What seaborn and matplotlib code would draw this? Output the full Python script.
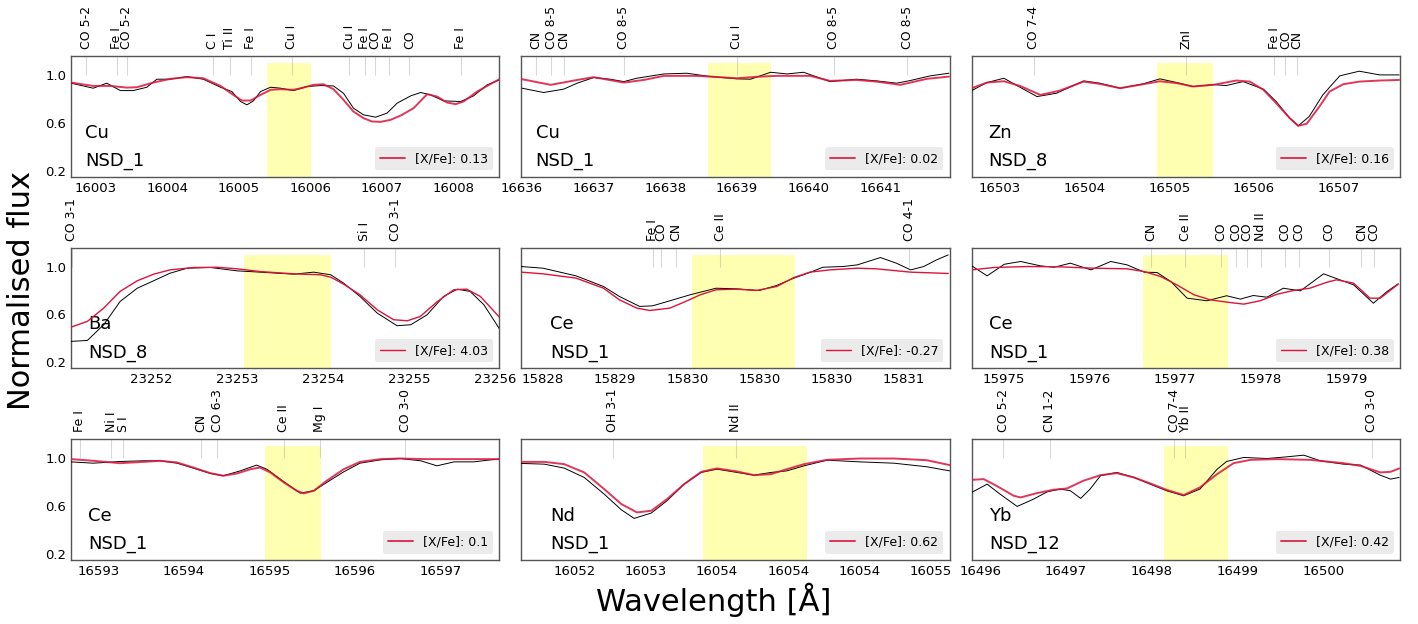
import matplotlib
matplotlib.use("Agg")
import matplotlib.pyplot as plt
import matplotlib.transforms as mtransforms
from matplotlib.ticker import MultipleLocator, FormatStrFormatter
import seaborn as sns

# ---------------- data ----------------
elements = ["Cu", "Cu", "Zn", "Ba", "Ce", "Ce", "Ce", "Nd", "Yb"]
stars = ["NSD_1", "NSD_1", "NSD_8", "NSD_8", "NSD_1", "NSD_1", "NSD_1", "NSD_1", "NSD_12"]
xfe_values = [0.13, 0.02, 0.16, 4.03, -0.27, 0.38, 0.1, 0.62, 0.42]

# panel 1: Cu
p1_model_wave = [16002.65, 16002.96, 16003.20, 16003.43, 16003.57, 16003.80, 16004.04, 16004.27, 16004.50, 16004.74, 16004.92, 16005.04, 16005.16, 16005.30, 16005.44, 16005.58, 16005.76, 16005.90, 16006.04, 16006.18, 16006.32, 16006.46, 16006.60, 16006.74, 16006.86, 16006.98, 16007.12, 16007.26, 16007.44, 16007.63, 16007.77, 16007.91, 16008.03, 16008.14, 16008.33, 16008.52, 16008.64]
p1_model_flux = [0.936, 0.908, 0.908, 0.894, 0.897, 0.936, 0.967, 0.981, 0.972, 0.908, 0.833, 0.786, 0.786, 0.833, 0.875, 0.881, 0.875, 0.894, 0.917, 0.922, 0.881, 0.792, 0.694, 0.639, 0.611, 0.608, 0.625, 0.661, 0.722, 0.839, 0.819, 0.769, 0.756, 0.778, 0.861, 0.925, 0.964]
p1_obs_wave = [16002.65, 16002.96, 16003.15, 16003.34, 16003.52, 16003.71, 16003.85, 16004.04, 16004.27, 16004.50, 16004.74, 16004.90, 16005.02, 16005.11, 16005.20, 16005.30, 16005.44, 16005.58, 16005.76, 16005.95, 16006.14, 16006.32, 16006.46, 16006.60, 16006.74, 16006.91, 16007.07, 16007.21, 16007.40, 16007.54, 16007.68, 16007.86, 16008.10, 16008.28, 16008.47, 16008.64]
p1_obs_flux = [0.931, 0.889, 0.931, 0.869, 0.869, 0.897, 0.964, 0.964, 0.986, 0.964, 0.897, 0.861, 0.778, 0.750, 0.783, 0.861, 0.897, 0.889, 0.869, 0.903, 0.911, 0.908, 0.847, 0.722, 0.667, 0.647, 0.681, 0.764, 0.825, 0.853, 0.833, 0.783, 0.778, 0.825, 0.917, 0.958]
p1_line_wave = [16002.86, 16003.29, 16003.43, 16004.63, 16004.87, 16005.16, 16005.74, 16006.54, 16006.76, 16006.90, 16007.09, 16007.38, 16008.10]
p1_line_label = ["CO 5-2", "Fe I", "CO 5-2", "C I", "Ti II", "Fe I", "Cu I", "Cu I", "Fe I", "CO", "Fe I", "CO", "Fe I"]

# panel 2: Cu
p2_model_wave = [16636.00, 16636.40, 16636.77, 16637.00, 16637.42, 16637.70, 16637.98, 16638.40, 16638.63, 16639.00, 16639.33, 16639.56, 16640.02, 16640.30, 16640.67, 16640.95, 16641.28, 16641.65, 16641.96]
p2_model_flux = [0.964, 0.917, 0.958, 0.981, 0.936, 0.958, 0.992, 0.992, 0.986, 0.972, 0.986, 0.992, 0.992, 0.950, 0.958, 0.944, 0.917, 0.967, 0.986]
p2_obs_wave = [16636.00, 16636.30, 16636.58, 16636.77, 16637.00, 16637.23, 16637.42, 16637.60, 16637.98, 16638.30, 16638.63, 16639.00, 16639.19, 16639.47, 16639.70, 16639.93, 16640.30, 16640.67, 16640.95, 16641.23, 16641.42, 16641.70, 16641.96]
p2_obs_flux = [0.889, 0.853, 0.881, 0.931, 0.978, 0.964, 0.944, 0.972, 1.008, 1.014, 0.986, 0.967, 0.964, 1.022, 1.008, 1.022, 0.944, 0.964, 0.950, 0.931, 0.953, 0.992, 1.014]
p2_line_wave = [16636.19, 16636.41, 16636.58, 16637.42, 16639.00, 16640.35, 16641.38]
p2_line_label = ["CN", "CO 8-5", "CN", "CO 8-5", "Cu I", "CO 8-5", "CO 8-5"]

# panel 3: Zn
p3_model_wave = [16502.67, 16502.85, 16503.05, 16503.24, 16503.48, 16503.71, 16503.99, 16504.18, 16504.42, 16504.69, 16504.89, 16505.09, 16505.28, 16505.52, 16505.79, 16505.95, 16506.11, 16506.26, 16506.42, 16506.52, 16506.62, 16506.77, 16506.89, 16507.05, 16507.24, 16507.48, 16507.71]
p3_model_flux = [0.889, 0.936, 0.947, 0.908, 0.833, 0.869, 0.944, 0.925, 0.889, 0.922, 0.947, 0.931, 0.903, 0.917, 0.953, 0.944, 0.875, 0.764, 0.639, 0.575, 0.592, 0.736, 0.861, 0.922, 0.944, 0.953, 0.958]
p3_obs_wave = [16502.67, 16502.85, 16503.05, 16503.24, 16503.44, 16503.67, 16503.99, 16504.18, 16504.42, 16504.69, 16504.89, 16505.09, 16505.28, 16505.52, 16505.67, 16505.87, 16506.11, 16506.26, 16506.42, 16506.52, 16506.65, 16506.81, 16507.01, 16507.24, 16507.48, 16507.71]
p3_obs_flux = [0.869, 0.936, 0.972, 0.897, 0.819, 0.847, 0.950, 0.931, 0.889, 0.925, 0.967, 0.936, 0.903, 0.919, 0.911, 0.944, 0.881, 0.778, 0.639, 0.575, 0.653, 0.833, 0.992, 1.031, 1.000, 1.000]
p3_line_wave = [16503.40, 16505.20, 16506.24, 16506.37, 16506.50]
p3_line_label = ["CO 7-4", "ZnI", "Fe I", "CO", "CN"]

# panel 4: Ba
p4_model_wave = [23251.07, 23251.26, 23251.45, 23251.64, 23251.84, 23252.03, 23252.22, 23252.50, 23252.77, 23253.00, 23253.27, 23253.66, 23253.97, 23254.09, 23254.24, 23254.43, 23254.63, 23254.82, 23254.98, 23255.13, 23255.33, 23255.52, 23255.67, 23255.83, 23256.05]
p4_model_flux = [0.494, 0.542, 0.653, 0.792, 0.881, 0.936, 0.972, 0.992, 0.994, 0.981, 0.958, 0.939, 0.931, 0.911, 0.853, 0.764, 0.639, 0.556, 0.547, 0.583, 0.708, 0.806, 0.811, 0.750, 0.578]
p4_obs_wave = [23251.07, 23251.26, 23251.45, 23251.64, 23251.84, 23252.03, 23252.22, 23252.42, 23252.69, 23253.00, 23253.27, 23253.66, 23253.89, 23254.09, 23254.24, 23254.43, 23254.63, 23254.86, 23255.02, 23255.21, 23255.40, 23255.56, 23255.71, 23255.87, 23256.05]
p4_obs_flux = [0.375, 0.383, 0.514, 0.708, 0.819, 0.881, 0.944, 0.986, 0.992, 0.964, 0.953, 0.936, 0.953, 0.931, 0.861, 0.750, 0.611, 0.506, 0.514, 0.597, 0.750, 0.811, 0.792, 0.681, 0.481]
p4_line_wave = [23251.08, 23254.48, 23254.84]
p4_line_label = ["CO 3-1", "Si I", "CO 3-1"]

# panel 5: Ce
p5_model_wave = [15828.35, 15828.50, 15828.73, 15828.92, 15829.03, 15829.15, 15829.24, 15829.38, 15829.50, 15829.59, 15829.70, 15829.84, 15829.98, 15830.12, 15830.24, 15830.35, 15830.49, 15830.68, 15830.81, 15831.05, 15831.31]
p5_model_flux = [0.953, 0.939, 0.903, 0.819, 0.722, 0.653, 0.633, 0.653, 0.714, 0.764, 0.806, 0.811, 0.800, 0.833, 0.908, 0.953, 0.972, 0.986, 0.981, 0.953, 0.942]
p5_obs_wave = [15828.35, 15828.50, 15828.73, 15828.92, 15829.03, 15829.17, 15829.26, 15829.38, 15829.52, 15829.70, 15829.84, 15830.00, 15830.12, 15830.24, 15830.35, 15830.44, 15830.58, 15830.68, 15830.84, 15830.95, 15831.05, 15831.14, 15831.23, 15831.31]
p5_obs_flux = [1.000, 0.986, 0.922, 0.833, 0.750, 0.667, 0.672, 0.714, 0.764, 0.819, 0.814, 0.800, 0.842, 0.903, 0.950, 0.994, 1.000, 1.014, 1.075, 1.028, 0.972, 1.000, 1.056, 1.097]
p5_line_wave = [15829.26, 15829.32, 15829.42, 15829.73, 15831.04]
p5_line_label = ["Fe I", "CO", "CN", "Ce II", "CO 4-1"]

# panel 6: Ce
p6_model_wave = [15974.63, 15974.89, 15975.28, 15975.67, 15976.05, 15976.44, 15976.64, 15976.83, 15977.02, 15977.22, 15977.41, 15977.60, 15977.80, 15977.99, 15978.19, 15978.38, 15978.57, 15978.77, 15978.88, 15979.08, 15979.27, 15979.39, 15979.60]
p6_model_flux = [0.972, 0.992, 1.000, 0.997, 0.986, 0.981, 0.958, 0.917, 0.847, 0.764, 0.722, 0.703, 0.686, 0.714, 0.769, 0.800, 0.819, 0.869, 0.889, 0.861, 0.736, 0.736, 0.853]
p6_obs_wave = [15974.63, 15974.81, 15975.01, 15975.20, 15975.43, 15975.59, 15975.78, 15976.02, 15976.25, 15976.44, 15976.64, 15976.79, 15976.95, 15977.14, 15977.37, 15977.60, 15977.76, 15977.91, 15978.07, 15978.26, 15978.46, 15978.73, 15978.92, 15979.08, 15979.31, 15979.47, 15979.60]
p6_obs_flux = [1.006, 0.922, 1.019, 1.042, 1.006, 0.994, 1.028, 0.972, 1.042, 1.014, 0.953, 0.950, 0.875, 0.736, 0.714, 0.756, 0.728, 0.758, 0.744, 0.819, 0.797, 0.939, 0.889, 0.847, 0.694, 0.792, 0.856]
p6_line_wave = [15976.72, 15977.12, 15977.53, 15977.71, 15977.84, 15978.00, 15978.28, 15978.44, 15978.79, 15979.17, 15979.32]
p6_line_label = ["CN", "Ce II", "CO", "CO", "CO", "Nd II", "CO", "CO", "CO", "CN", "CO"]

# panel 7: Ce
p7_model_wave = [16592.68, 16592.94, 16593.25, 16593.53, 16593.72, 16593.92, 16594.11, 16594.31, 16594.46, 16594.62, 16594.78, 16594.89, 16595.01, 16595.17, 16595.32, 16595.40, 16595.52, 16595.67, 16595.87, 16596.06, 16596.30, 16596.53, 16596.84, 16597.23, 16597.69]
p7_model_flux = [0.992, 0.978, 0.958, 0.969, 0.978, 0.964, 0.922, 0.875, 0.853, 0.872, 0.908, 0.922, 0.881, 0.797, 0.728, 0.706, 0.728, 0.811, 0.908, 0.969, 0.992, 0.997, 0.992, 0.992, 0.992]
p7_obs_wave = [16592.68, 16592.94, 16593.25, 16593.53, 16593.72, 16593.92, 16594.11, 16594.31, 16594.46, 16594.66, 16594.85, 16594.97, 16595.17, 16595.36, 16595.52, 16595.67, 16595.87, 16596.06, 16596.30, 16596.53, 16596.77, 16596.96, 16597.16, 16597.39, 16597.59, 16597.69]
p7_obs_flux = [0.969, 0.958, 0.972, 0.978, 0.978, 0.958, 0.917, 0.872, 0.853, 0.894, 0.942, 0.908, 0.803, 0.708, 0.728, 0.797, 0.886, 0.958, 0.986, 0.997, 0.978, 0.936, 0.969, 0.969, 0.986, 0.992]
p7_line_wave = [16592.78, 16593.15, 16593.29, 16594.20, 16594.39, 16595.17, 16595.59, 16596.59]
p7_line_label = ["Fe I", "Ni I", "S I", "CN", "CO 6-3", "Ce II", "Mg I", "CO 3-0"]

# panel 8: Nd
p8_model_wave = [16052.13, 16052.29, 16052.43, 16052.57, 16052.71, 16052.83, 16052.94, 16053.04, 16053.15, 16053.27, 16053.39, 16053.50, 16053.64, 16053.76, 16053.88, 16053.99, 16054.11, 16054.27, 16054.50, 16054.74, 16054.97, 16055.13]
p8_model_flux = [0.969, 0.969, 0.950, 0.881, 0.742, 0.617, 0.547, 0.561, 0.658, 0.783, 0.886, 0.914, 0.889, 0.858, 0.867, 0.908, 0.950, 0.986, 0.997, 0.997, 0.983, 0.942]
p8_obs_wave = [16052.13, 16052.29, 16052.43, 16052.57, 16052.71, 16052.83, 16052.92, 16053.04, 16053.15, 16053.27, 16053.39, 16053.50, 16053.64, 16053.76, 16053.88, 16053.99, 16054.11, 16054.27, 16054.50, 16054.74, 16054.97, 16055.13]
p8_obs_flux = [0.956, 0.950, 0.917, 0.839, 0.700, 0.569, 0.497, 0.542, 0.644, 0.783, 0.881, 0.908, 0.881, 0.858, 0.881, 0.894, 0.936, 0.983, 0.969, 0.958, 0.928, 0.894]
p8_line_wave = [16052.77, 16053.63]
p8_line_label = ["OH 3-1", "Nd II"]

# panel 9: Yb
p9_model_wave = [16495.90, 16496.04, 16496.19, 16496.39, 16496.47, 16496.66, 16496.85, 16497.01, 16497.20, 16497.40, 16497.59, 16497.79, 16497.98, 16498.17, 16498.37, 16498.56, 16498.76, 16498.95, 16499.15, 16499.46, 16499.84, 16500.23, 16500.43, 16500.66, 16500.78, 16500.88]
p9_model_flux = [0.819, 0.825, 0.769, 0.686, 0.672, 0.708, 0.736, 0.747, 0.811, 0.858, 0.875, 0.839, 0.789, 0.736, 0.692, 0.756, 0.867, 0.958, 0.986, 0.992, 0.986, 0.958, 0.936, 0.881, 0.886, 0.914]
p9_obs_wave = [16495.90, 16496.08, 16496.23, 16496.43, 16496.62, 16496.78, 16496.93, 16497.05, 16497.17, 16497.28, 16497.40, 16497.59, 16497.79, 16497.98, 16498.17, 16498.37, 16498.56, 16498.76, 16498.87, 16499.07, 16499.34, 16499.57, 16499.77, 16499.96, 16500.23, 16500.43, 16500.66, 16500.78, 16500.88]
p9_obs_flux = [0.714, 0.783, 0.700, 0.597, 0.658, 0.719, 0.742, 0.728, 0.664, 0.742, 0.853, 0.881, 0.839, 0.783, 0.728, 0.686, 0.742, 0.908, 0.972, 1.006, 0.997, 1.011, 1.025, 0.978, 0.950, 0.942, 0.858, 0.825, 0.839]
p9_line_wave = [16496.27, 16496.81, 16498.26, 16498.39, 16500.56]
p9_line_label = ["CO 5-2", "CN 1-2", "CO 7-4", "Yb II", "CO 3-0"]

# window limits, fitted band, tick step
x_limits = [(16002.65, 16008.64), (16635.99, 16641.97), (16502.67, 16507.72),
            (23251.07, 23256.05), (15828.35, 15831.32), (15974.63, 15979.62),
            (16592.68, 16597.69), (16052.13, 16055.13), (16495.90, 16500.89)]
fit_bands = [(16005.39, 16006.00), (16638.60, 16639.47), (16504.86, 16505.52),
             (23253.08, 23254.09), (15829.53, 15830.25), (15976.63, 15977.62),
             (16594.95, 16595.60), (16053.40, 16054.13), (16498.14, 16498.89)]
tick_steps = [1, 1, 1, 1, 0.5, 1, 1, 0.5, 1]

model_waves = [p1_model_wave, p2_model_wave, p3_model_wave, p4_model_wave, p5_model_wave, p6_model_wave, p7_model_wave, p8_model_wave, p9_model_wave]
model_fluxes = [p1_model_flux, p2_model_flux, p3_model_flux, p4_model_flux, p5_model_flux, p6_model_flux, p7_model_flux, p8_model_flux, p9_model_flux]
obs_waves = [p1_obs_wave, p2_obs_wave, p3_obs_wave, p4_obs_wave, p5_obs_wave, p6_obs_wave, p7_obs_wave, p8_obs_wave, p9_obs_wave]
obs_fluxes = [p1_obs_flux, p2_obs_flux, p3_obs_flux, p4_obs_flux, p5_obs_flux, p6_obs_flux, p7_obs_flux, p8_obs_flux, p9_obs_flux]
line_waves = [p1_line_wave, p2_line_wave, p3_line_wave, p4_line_wave, p5_line_wave, p6_line_wave, p7_line_wave, p8_line_wave, p9_line_wave]
line_labels = [p1_line_label, p2_line_label, p3_line_label, p4_line_label, p5_line_label, p6_line_label, p7_line_label, p8_line_label, p9_line_label]

# ---------------- plot ----------------
sns.set_style("white")
plt.rcParams['font.family'] = ['DejaVu Sans']
plt.rcParams['text.color'] = 'black'
plt.rcParams['axes.labelcolor'] = 'black'
plt.rcParams['xtick.color'] = 'black'
plt.rcParams['ytick.color'] = 'black'
plt.rcParams['lines.solid_capstyle'] = 'round'

fig, axes = plt.subplots(3, 3, figsize=(14.18, 6.24), dpi=100)
fig.subplots_adjust(left=0.0501, right=0.9873, top=0.9103, bottom=0.1026,
                    wspace=0.0514, hspace=0.587)

for i, ax in enumerate(axes.flat):
    row, col = divmod(i, 3)
    x0, x1 = x_limits[i]
    b0, b1 = fit_bands[i]
    ax.fill_between([b0, b1], 0, 1.1, color="yellow", alpha=0.3, lw=0, zorder=0)
    ax.vlines(line_waves[i], 1.0, 1.3, color="gray", alpha=0.3, lw=0.8, zorder=1)
    trans = mtransforms.blended_transform_factory(ax.transData, ax.transAxes)
    for lw_, lab in zip(line_waves[i], line_labels[i]):
        ax.text(lw_, 1.058, lab, transform=trans, rotation=90, ha="center",
                va="bottom", fontsize=9, clip_on=False, color="black")

    sns.lineplot(x=obs_waves[i], y=obs_fluxes[i], ax=ax, color="black", lw=0.7,
                 sort=False, estimator=None, legend=False, zorder=3)
    mlw, malpha = (1.0, 1.0) if row == 1 else (1.4, 0.85)
    sns.lineplot(x=model_waves[i], y=model_fluxes[i], ax=ax, color="crimson",
                 lw=mlw, alpha=malpha, sort=False, estimator=None,
                 label=f"[X/Fe]: {xfe_values[i]}", zorder=4)

    ax.set_xlim(x0, x1)
    ax.set_ylim(0.15, 1.158)
    ax.set_yticks([0.2, 0.6, 1.0])
    if col > 0:
        ax.set_yticklabels([])
    ax.xaxis.set_major_locator(MultipleLocator(tick_steps[i]))
    ax.xaxis.set_major_formatter(FormatStrFormatter("%.0f"))
    ax.tick_params(direction="in", labelsize=9.5, length=4, width=0.8,
                   color="#555555", labelcolor="black")
    for sp in ax.spines.values():
        sp.set_color("#555555")
        sp.set_linewidth(1.0)
    ax.set_xlabel("")
    ax.set_ylabel("")

    ax.text(x0 + 0.2, 0.475, elements[i], fontsize=13, va="baseline", ha="left", color="black")
    ax.text(x0 + 0.2, 0.24, stars[i], fontsize=13, va="baseline", ha="left", color="black")

    leg = ax.legend(loc="lower right", fontsize=9, facecolor="#ebebeb", edgecolor="none",
                    framealpha=1.0, fancybox=True)
    for t in leg.get_texts():
        t.set_color("black")

fig.text(0.0155, 0.534, "Normalised flux", rotation=90, ha="center", va="center",
         fontsize=22, color="black")
fig.text(0.5035, 0.038, "Wavelength [Å]", ha="center", va="center", fontsize=22,
         color="black")

fig.savefig("out.png", dpi=100)
